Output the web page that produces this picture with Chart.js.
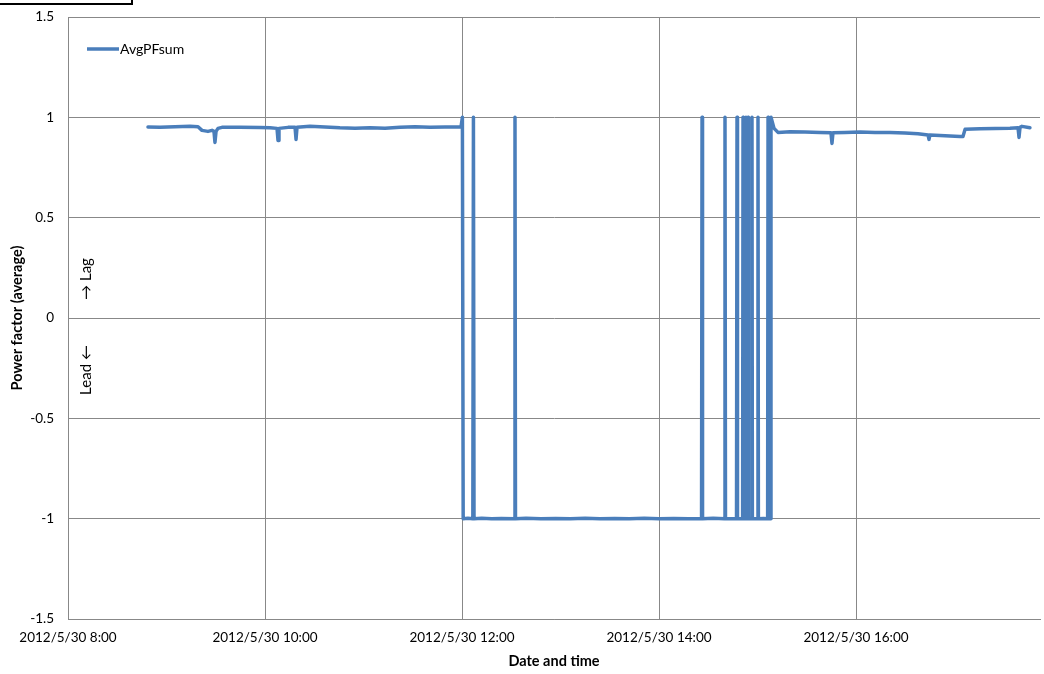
<!DOCTYPE html>
<html>
<head>
<meta charset="utf-8">
<script src="https://cdn.jsdelivr.net/npm/chart.js@4.4.1/dist/chart.umd.min.js"></script>
<style>
html,body{margin:0;padding:0;background:#fff;}
#wrap{position:relative;width:1044px;height:674px;}
</style>
</head>
<body>
<div id="wrap"><canvas id="c" width="1044" height="674"></canvas></div>
<script>
// ---- data (hours of the day on 2012/5/30, power factor) ----
const seriesName = "AvgPFsum";
const xTicks = [8, 10, 12, 14, 16];
const yTicks = [-1.5, -1, -0.5, 0, 0.5, 1, 1.5];
const xTitle = "Date and time";
const yTitle = "Power factor (average)";
const lagLabel = "\u2192 Lag";
const leadLabel = "Lead \u2190";

const timesA = [8.812, 8.934, 9.086, 9.239, 9.320, 9.360, 9.421, 9.462, 9.482, 9.492, 9.503, 9.523, 9.563, 9.746, 9.949, 10.051, 10.122, 10.132, 10.142, 10.234, 10.305, 10.315, 10.325, 10.457, 10.609, 10.761, 10.914, 11.066, 11.218, 11.371, 11.523, 11.675, 11.827, 11.990];
const pfA =    [0.952, 0.950, 0.953, 0.955, 0.953, 0.935, 0.930, 0.935, 0.930, 0.875, 0.930, 0.945, 0.950, 0.950, 0.949, 0.948, 0.945, 0.885, 0.945, 0.950, 0.950, 0.890, 0.950, 0.955, 0.952, 0.948, 0.946, 0.948, 0.946, 0.950, 0.953, 0.951, 0.952, 0.952];

const timesB = [12.004, 12.012, 12.060, 12.110, 12.116, 12.122, 12.200, 12.300, 12.400, 12.533, 12.538, 12.543, 12.650, 12.800, 12.950, 13.100, 13.250, 13.400, 13.550, 13.700, 13.850, 14.000, 14.150, 14.300, 14.432, 14.437, 14.442, 14.550, 14.665, 14.670, 14.675, 14.787, 14.792, 14.797, 14.849, 14.853, 14.857, 14.879, 14.883, 14.887, 14.900, 14.904, 14.908, 14.940, 14.944, 14.948, 15.001, 15.005, 15.009, 15.060, 15.103, 15.107, 15.111, 15.130];
const pfB =    [1.000, -1.000, -0.998, -1.000, 1.000, -1.000, -0.998, -1.000, -0.999, -1.000, 1.000, -1.000, -0.998, -1.000, -0.999, -1.000, -0.998, -1.000, -0.999, -1.000, -0.998, -1.000, -0.999, -1.000, -1.000, 1.000, -1.000, -0.998, -1.000, 1.000, -1.000, -1.000, 1.000, -1.000, -1.000, 1.000, -1.000, -1.000, 1.000, -1.000, -1.000, 1.000, -1.000, -1.000, 1.000, -1.000, -1.000, 1.000, -1.000, -0.999, -1.000, 1.000, -1.000, -1.000];

const timesC = [15.137, 15.168, 15.208, 15.330, 15.482, 15.635, 15.746, 15.756, 15.766, 15.888, 16.041, 16.193, 16.345, 16.497, 16.629, 16.731, 16.741, 16.751, 16.904, 17.056, 17.086, 17.107, 17.259, 17.411, 17.563, 17.645, 17.655, 17.665, 17.685, 17.766];
const pfC =    [1.000, 0.945, 0.925, 0.928, 0.927, 0.925, 0.923, 0.870, 0.923, 0.925, 0.927, 0.924, 0.925, 0.922, 0.918, 0.912, 0.890, 0.912, 0.908, 0.905, 0.905, 0.940, 0.943, 0.944, 0.946, 0.948, 0.900, 0.950, 0.955, 0.948];

const allTimes = timesA.concat(timesB, timesC);
const allPF = pfA.concat(pfB, pfC);
const points = allTimes.map((t, i) => ({x: t, y: allPF[i]}));

const lineColor = "#4A7EBB";
const gridColor = "#888888";
const FONT = "Lato, 'Liberation Sans', sans-serif";

function fmtTime(v) {
  const h = Math.floor(v + 1e-9);
  const m = Math.round((v - h) * 60);
  return "2012/5/30 " + h + ":" + String(m).padStart(2, "0");
}

const extras = {
  id: "extras",
  afterDraw(chart) {
    const ctx = chart.ctx;
    ctx.save();
    // top-left framed box
    ctx.strokeStyle = "#000";
    ctx.lineWidth = 2;
    ctx.strokeRect(-2, -2, 134, 6);
    // legend
    ctx.strokeStyle = lineColor;
    ctx.lineWidth = 3.5;
    ctx.beginPath();
    ctx.moveTo(87, 49);
    ctx.lineTo(119, 49);
    ctx.stroke();
    ctx.fillStyle = "#000";
    ctx.font = "14px " + FONT;
    ctx.textBaseline = "middle";
    ctx.textAlign = "left";
    ctx.fillText(seriesName, 120, 49);
    // Lead / Lag annotation
    ctx.translate(86, 318);
    ctx.rotate(-Math.PI / 2);
    ctx.textAlign = "center";
    ctx.font = "15px " + FONT;
    ctx.fillText(lagLabel, 39, 0);
    ctx.fillText(leadLabel, -52, 0);
    ctx.restore();
  }
};

new Chart(document.getElementById("c"), {
  type: "line",
  data: {
    datasets: [{
      label: seriesName,
      data: points,
      borderColor: lineColor,
      backgroundColor: lineColor,
      borderWidth: 3.5,
      borderJoinStyle: "round",
      borderCapStyle: "round",
      pointRadius: 0,
      tension: 0,
      fill: false
    }]
  },
  options: {
    responsive: false,
    animation: false,
    layout: { padding: { top: 17, right: 4, left: 0, bottom: 0 } },
    plugins: { legend: { display: false }, tooltip: { enabled: false } },
    scales: {
      x: {
        type: "linear",
        min: 8,
        max: 17.868,
        afterBuildTicks(scale) { scale.ticks = xTicks.map(v => ({value: v})); },
        afterFit(scale) { scale.height = 55; scale.paddingLeft = 0; scale.paddingRight = 0; },
        grid: { color: gridColor, lineWidth: 1, drawTicks: false },
        border: { color: gridColor, width: 1 },
        ticks: {
          padding: 11,
          maxRotation: 0,
          autoSkip: false,
          color: "#000",
          font: { family: FONT, size: 13.5 },
          callback: (v) => fmtTime(v)
        },
        title: {
          display: true,
          text: xTitle,
          color: "#000",
          font: { family: FONT, size: 14.5, weight: "bold" },
          padding: { top: 0, bottom: 4 }
        }
      },
      y: {
        type: "linear",
        min: -1.5,
        max: 1.5,
        afterBuildTicks(scale) { scale.ticks = yTicks.map(v => ({value: v})); },
        afterFit(scale) { scale.width = 68; scale.paddingTop = 0; scale.paddingBottom = 0; },
        grid: { color: gridColor, lineWidth: 1, drawTicks: false },
        border: { color: gridColor, width: 1 },
        ticks: {
          padding: 14,
          color: "#000",
          font: { family: FONT, size: 13.5 },
          callback: (v) => String(v)
        },
        title: {
          display: true,
          text: yTitle,
          color: "#000",
          font: { family: FONT, size: 14.5, weight: "bold" },
          padding: { top: 9, bottom: 0 }
        }
      }
    }
  },
  plugins: [extras]
});
</script>
</body>
</html>
